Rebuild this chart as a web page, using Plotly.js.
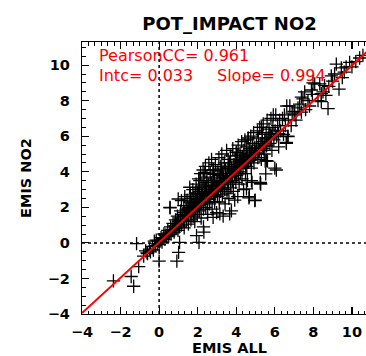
<!DOCTYPE html>
<html>
<head>
<meta charset="utf-8">
<script src="https://cdn.plot.ly/plotly-3.0.1.min.js"></script>
<style>
html,body{margin:0;padding:0;overflow:hidden;background:#fff;}
#chart{width:380px;height:356px;}
</style>
</head>
<body>
<div id="chart"></div>
<script>
// ---- data ----
const chartTitle = "POT_IMPACT NO2";
const xLabel = "EMIS ALL";
const yLabel = "EMIS NO2";
const pearsonCC = 0.961;
const intercept = 0.033;
const slope = 0.994;
const axisRange = [-4, 11.3];
const tickVals = [-4, -2, 0, 2, 4, 6, 8, 10];

// [EMIS ALL, EMIS NO2] pairs
const samplePairs = [
  // near zero / negative
  [-0.1,-0.05],[-0.2,-0.15],[-0.3,-0.4],[-0.35,-0.2],[-0.45,-0.5],[-0.5,-0.35],[-0.6,-0.6],[-0.7,-0.45],[-0.8,-0.75],[-0.25,0.1],[-0.15,0.15],[0.0,-0.1],
  // 0 - 1
  [0.05,0.1],[0.1,0.3],[0.15,0.05],[0.2,0.25],[0.25,0.5],[0.3,0.2],[0.35,0.45],[0.4,0.35],[0.45,0.7],[0.5,0.4],[0.55,0.6],[0.6,0.9],[0.62,0.5],[0.7,0.75],[0.72,1.1],[0.78,0.6],[0.8,0.95],[0.85,1.3],[0.88,0.8],[0.9,1.05],[0.95,1.5],[0.98,0.7],[1.0,1.2],
  // 1 - 2
  [1.05,0.9],[1.1,1.4],[1.12,1.8],[1.15,1.0],[1.2,1.6],[1.25,1.25],[1.28,2.1],[1.3,0.85],[1.35,1.5],[1.4,1.9],[1.42,1.2],[1.45,2.4],[1.5,1.55],[1.52,1.05],[1.55,2.0],[1.6,1.7],[1.62,2.7],[1.65,1.3],[1.7,2.2],[1.72,1.85],[1.75,3.0],[1.78,1.5],[1.8,2.5],[1.82,2.05],[1.85,1.2],[1.88,2.8],[1.9,1.9],[1.92,3.3],[1.95,2.3],[1.98,1.6],[2.0,2.6],
  // 2 - 3
  [2.02,2.1],[2.05,3.6],[2.08,1.8],[2.1,2.9],[2.12,2.4],[2.15,3.9],[2.18,1.4],[2.2,2.2],[2.22,3.2],[2.25,2.7],[2.28,4.1],[2.3,1.9],[2.32,3.5],[2.35,2.45],[2.38,3.0],[2.4,4.3],[2.42,2.0],[2.45,2.8],[2.48,3.7],[2.5,2.5],[2.52,1.6],[2.55,3.3],[2.58,4.5],[2.6,2.9],[2.62,2.2],[2.65,3.9],[2.68,2.6],[2.7,3.4],[2.72,4.7],[2.75,1.9],[2.78,3.0],[2.8,4.1],[2.82,2.7],[2.85,3.6],[2.88,2.3],[2.9,3.2],[2.92,4.4],[2.95,2.9],[2.98,1.7],[3.0,3.5],
  // 3 - 4
  [3.02,2.6],[3.05,4.0],[3.08,3.1],[3.1,4.8],[3.12,2.3],[3.15,3.7],[3.18,2.9],[3.2,4.3],[3.22,3.3],[3.25,5.0],[3.28,2.7],[3.3,3.9],[3.32,1.5],[3.35,3.4],[3.38,4.5],[3.4,3.0],[3.42,2.2],[3.45,4.1],[3.48,3.6],[3.5,5.2],[3.52,2.8],[3.55,3.8],[3.58,4.7],[3.6,3.3],[3.62,2.5],[3.65,4.2],[3.68,3.7],[3.7,4.9],[3.72,3.1],[3.75,1.8],[3.78,4.0],[3.8,3.5],[3.82,5.3],[3.85,2.9],[3.88,4.4],[3.9,3.9],[3.92,2.4],[3.95,4.7],[3.98,3.4],[4.0,5.1],
  // 4 - 5
  [4.02,3.8],[4.05,4.3],[4.08,2.6],[4.1,5.5],[4.12,4.0],[4.15,3.3],[4.18,4.6],[4.2,5.0],[4.22,3.9],[4.25,4.4],[4.28,5.7],[4.3,3.6],[4.32,4.8],[4.35,4.2],[4.38,3.0],[4.4,5.2],[4.42,4.5],[4.45,5.8],[4.48,3.9],[4.5,4.7],[4.52,5.4],[4.55,4.3],[4.58,3.5],[4.6,5.0],[4.62,5.9],[4.65,4.6],[4.68,2.6],[4.7,5.3],[4.72,4.9],[4.75,6.0],[4.78,4.2],[4.8,5.1],[4.82,3.4],[4.85,5.6],[4.88,4.8],[4.9,6.2],[4.92,4.5],[4.95,5.3],[4.98,2.4],[5.0,5.0],
  // 5 - 6
  [5.05,5.5],[5.1,6.3],[5.12,4.8],[5.15,5.9],[5.2,5.2],[5.22,6.5],[5.25,3.4],[5.28,5.6],[5.3,4.7],[5.35,6.1],[5.38,5.4],[5.4,6.7],[5.45,5.0],[5.48,5.8],[5.5,4.6],[5.55,6.2],[5.58,5.5],[5.6,6.9],[5.62,4.6],[5.65,5.9],[5.7,6.4],[5.75,5.6],[5.8,7.0],[5.82,6.0],[5.85,5.2],[5.9,6.5],[5.92,7.2],[5.95,5.8],[6.0,4.2],[6.02,6.3],
  // 6 - 7
  [6.05,7.2],[6.1,6.0],[6.15,6.6],[6.2,5.4],[6.25,6.9],[6.3,6.3],[6.4,7.0],[6.45,6.1],[6.5,7.2],[6.55,6.6],[6.6,5.6],[6.62,7.7],[6.68,6.0],[6.7,6.9],[6.78,7.7],[6.85,6.6],[6.9,7.3],[7.0,7.4],[7.03,7.2],[7.1,6.9],
  // 7 - 8
  [7.2,7.6],[7.29,7.8],[7.38,7.35],[7.38,8.2],[7.46,8.1],[7.55,8.5],[7.6,7.5],[7.72,8.0],[7.8,7.7],[7.9,8.6],[7.95,8.35],[7.98,9.0],
  // 8 - 9
  [8.07,8.95],[8.24,8.0],[8.33,8.95],[8.41,8.4],[8.41,7.95],[8.5,8.5],[8.58,8.85],[8.65,8.3],[8.76,7.55],[8.8,8.8],[8.93,9.4],[9.0,9.1],
  // 9+
  [9.1,9.5],[9.19,10.05],[9.33,8.65],[9.45,9.85],[9.5,9.3],[9.6,9.6],[9.7,9.9],[9.88,10.15],[10.0,9.9],[10.2,10.2],[10.4,10.4],[10.57,10.55],
  // outliers
  [-2.37,-2.14],[-1.45,-1.89],[-1.32,-2.44],[-1.06,-1.33],[-1.17,-0.04],[-0.63,-0.56],[0.0,-1.03],[1.01,-0.53],[0.92,-1.03],[1.06,0.03],[2.07,0.03],[0.57,1.97],[1.94,0.41],[2.32,0.6],[2.3,0.9],[0.56,2.0],[0.99,2.47],[1.16,2.38],[1.33,2.6],[1.59,3.13],[2.11,3.5],[2.37,3.97],[2.8,4.1],[5.53,3.88],[5.25,3.35],[5.27,3.3],[4.79,3.5],[4.53,3.04],[4.66,2.53],[4.96,2.38],[3.66,1.63],[3.15,1.63],[2.8,1.44],[6.08,4.10],[5.56,4.63],[6.6,5.65],[6.68,5.98],[4.01,5.09],[4.61,5.79],[5.31,6.5],
  // dense core near the line
  [1.5,1.7],[1.7,1.6],[1.9,2.1],[2.1,2.0],[2.3,2.5],[2.5,2.3],[2.7,2.8],[2.9,2.7],[3.1,3.2],[3.3,3.1],[3.5,3.6],[3.7,3.5],[3.9,4.1],[4.1,3.9],[4.3,4.5],[4.5,4.3],[4.7,4.8],[1.6,2.3],[2.0,2.8],[2.4,3.1],[2.8,3.5],[3.2,3.8],[3.6,4.3],[4.0,4.6],[4.4,4.9],[1.3,1.7],[1.8,1.75],[2.2,2.6],[2.6,2.45],[3.0,3.05],[3.4,3.45],[3.8,3.75],[4.2,4.25],[4.6,4.55],[5.0,5.1],[5.4,5.3],[5.8,5.9],[6.2,6.15],
  [1.4,1.55],[1.55,1.95],[1.75,2.0],[1.95,2.45],[2.15,2.3],[2.35,2.75],[2.55,2.7],[2.75,3.2],[2.95,3.0],[3.15,3.45],[3.35,3.7],[3.55,3.45],[3.75,4.2],[3.95,4.0],[4.15,4.45],[4.35,4.65],[4.55,4.9],[4.75,4.65],[4.95,5.35],[5.15,5.2],[5.35,5.7],[5.55,5.45],[5.75,6.1],[1.65,2.5],[2.05,3.1],[2.45,3.4],[2.85,3.85],[3.25,4.2],[3.65,4.5],[4.05,4.9]
];
const emisAll = samplePairs.map(p => p[0]);
const emisNO2 = samplePairs.map(p => p[1]);

// regression line from intercept / slope across the axis range
const fitX = axisRange.slice();
const fitY = fitX.map(v => intercept + slope * v);

const FONT_B = "DejaVu Sans, sans-serif";

const traces = [
  {
    type: "scatter", mode: "markers", x: emisAll, y: emisNO2,
    marker: {symbol: "cross-thin-open", size: 9.5, color: "#000", line: {color: "#000", width: 1.3}},
    hoverinfo: "skip", cliponaxis: true
  },
  {
    type: "scatter", mode: "lines", x: fitX, y: fitY,
    line: {color: "#ff0000", width: 2}, hoverinfo: "skip"
  }
];

const axisCommon = {
  range: axisRange, autorange: false, showgrid: false, zeroline: false,
  showline: true, linecolor: "#000", linewidth: 1.2, mirror: "allticks",
  ticks: "inside", ticklen: 7, tickwidth: 1.2, tickcolor: "#000",
  tickmode: "array", tickvals: tickVals,
  tickfont: {family: FONT_B, size: 14.5, color: "#000", weight: "bold"},
};

const redFont = {family: FONT_B, size: 16, color: "#ff0000"};

const layout = {
  width: 380, height: 356,
  margin: {l: 82, r: 3, t: 42, b: 42, pad: 0},
  paper_bgcolor: "#fff", plot_bgcolor: "#fff",
  showlegend: false,
  title: {text: chartTitle, font: {family: FONT_B, size: 18, color: "#000", weight: "bold"},
          x: 0.5, xref: "paper", y: 1 - 24/356, yref: "container", yanchor: "middle", xanchor: "center"},
  xaxis: Object.assign({}, axisCommon, {
    minor: {dtick: 1/3, tick0: -4, ticks: "inside", ticklen: 3.5, tickwidth: 1, tickcolor: "#000"},
    ticklabelstandoff: 4,
    title: {text: xLabel, font: {family: FONT_B, size: 14.5, color: "#000", weight: "bold"}, standoff: 6}
  }),
  yaxis: Object.assign({}, axisCommon, {
    minor: {dtick: 0.5, tick0: -4, ticks: "inside", ticklen: 3.5, tickwidth: 1, tickcolor: "#000"},
    ticklabelstandoff: 8,
    title: {text: yLabel, font: {family: FONT_B, size: 14.5, color: "#000", weight: "bold"}, standoff: 12}
  }),
  shapes: [
    {type: "line", xref: "x", yref: "paper", x0: 0, x1: 0, y0: 0, y1: 1, layer: "below",
     line: {color: "#000", width: 1.5, dash: "dot"}},
    {type: "line", xref: "paper", yref: "y", x0: 0, x1: 1, y0: 0, y1: 0, layer: "below",
     line: {color: "#000", width: 1.5, dash: "dot"}}
  ],
  annotations: [
    {xref: "paper", yref: "paper", x: 0.05, y: 0.95, xanchor: "left", yanchor: "middle", showarrow: false,
     text: "PearsonCC= " + pearsonCC.toFixed(3), font: redFont},
    {xref: "paper", yref: "paper", x: 0.05, y: 0.878, xanchor: "left", yanchor: "middle", showarrow: false,
     text: "Intc= " + intercept.toFixed(3), font: redFont},
    {xref: "paper", yref: "paper", x: 0.452, y: 0.878, xanchor: "left", yanchor: "middle", showarrow: false,
     text: "Slope= " + slope.toFixed(3), font: redFont}
  ]
};

Plotly.newPlot("chart", traces, layout, {staticPlot: true, displayModeBar: false});
</script>
</body>
</html>
